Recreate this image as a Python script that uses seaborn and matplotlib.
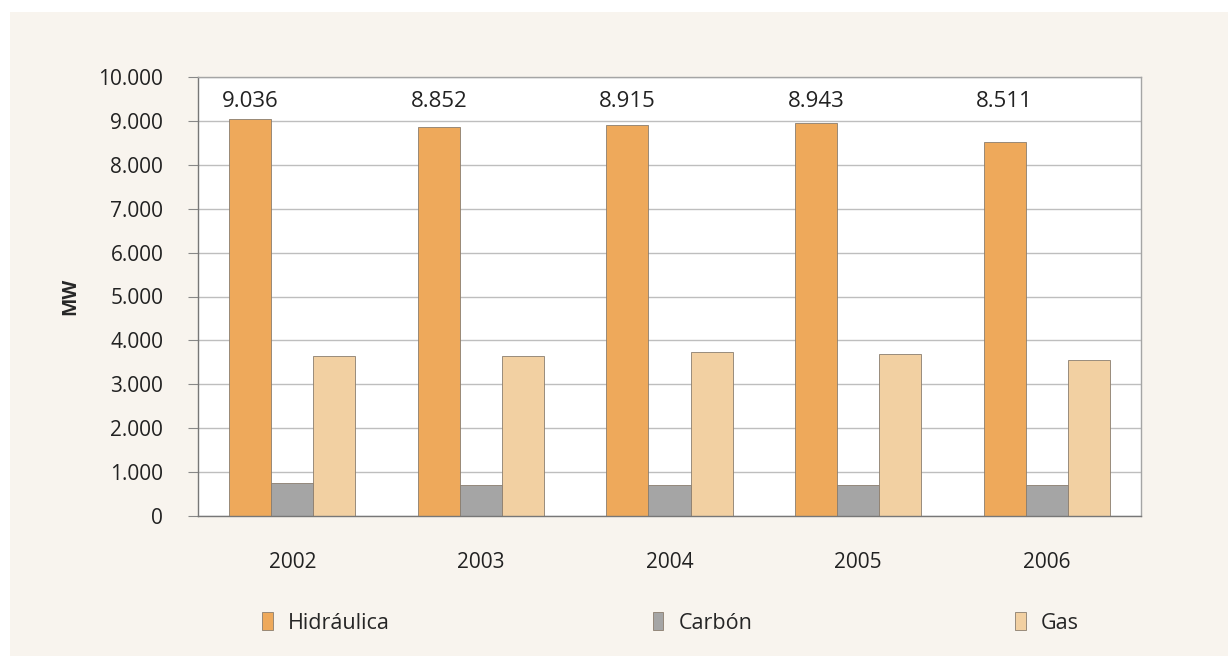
import pandas as pd
import matplotlib.pyplot as plt
import matplotlib.ticker as mticker
import seaborn as sns

# Installed capacity by source (MW)
years = ['2002', '2003', '2004', '2005', '2006']
sources = ['Hidráulica', 'Carbón', 'Gas']
hidraulica = [9036, 8852, 8915, 8943, 8511]
carbon = [750, 700, 700, 700, 700]
gas = [3650, 3650, 3735, 3690, 3550]

df = pd.DataFrame({
    'Año': years * 3,
    'Fuente': [sources[0]] * 5 + [sources[1]] * 5 + [sources[2]] * 5,
    'MW': hidraulica + carbon + gas,
})

palette = {'Hidráulica': '#EEA95B', 'Carbón': '#A5A5A5', 'Gas': '#F2D0A2'}
cream = '#F8F4EE'

sns.set_style('white')
plt.rcParams['font.family'] = ['Open Sans', 'DejaVu Sans']

fig = plt.figure(figsize=(12.28, 6.56), dpi=100)
fig.patch.set_facecolor('white')
# cream panel behind the chart
fig.patches.append(plt.Rectangle((10 / 1228, 0), 1, 1 - 12 / 656, transform=fig.transFigure,
                                 facecolor=cream, edgecolor='none', zorder=-10))

ax = fig.add_axes([198 / 1228, 1 - 516 / 656, (1141 - 198) / 1228, (516 - 77) / 656])
sns.barplot(data=df, x='Año', y='MW', hue='Fuente', palette=palette, width=0.67,
            edgecolor='#8a7d6e', linewidth=0.6, saturation=1, ax=ax, legend=False)

ax.set_facecolor('white')
ax.set_ylim(0, 10000)
ax.set_xlim(-0.5, 4.5)
ax.yaxis.set_major_locator(mticker.MultipleLocator(1000))
ax.yaxis.set_major_formatter(mticker.FuncFormatter(lambda v, p: f'{int(v):,}'.replace(',', '.')))
ax.yaxis.grid(True, color='#BEBEBE', linewidth=1)
ax.set_axisbelow(True)

# ticks at category boundaries on x
ax.set_xticks(range(5))
ax.set_xticklabels(years, fontsize=15, color='#222222')
ax.xaxis.set_minor_locator(mticker.FixedLocator([-0.5, 0.5, 1.5, 2.5, 3.5, 4.5]))
ax.tick_params(axis='x', which='major', length=0, pad=26)
ax.tick_params(axis='x', which='minor', length=8, color='#888888', direction='out')
ax.tick_params(axis='y', length=7, color='#888888', labelsize=15, labelcolor='#222222', pad=18,
               left=True)

for s in ax.spines.values():
    s.set_color('#a5a5a5')
    s.set_linewidth(1)
ax.spines['left'].set_color('#777777')
ax.spines['bottom'].set_color('#777777')

ax.set_xlabel('')
ax.set_ylabel('MW', fontsize=14, fontweight='bold', labelpad=13)

# value labels on Hidráulica bars, set near the top of the plot
for bar, v in zip(ax.containers[0], hidraulica):
    ax.text(bar.get_x() + bar.get_width() / 2, 9450, f'{v:,}'.replace(',', '.'),
            ha='center', va='center', fontsize=16, color='#222222')

handles = [plt.Rectangle((0, 0), 1, 1, facecolor=palette[s], edgecolor='#8a7d6e', linewidth=0.6)
           for s in sources]
fig.legend(handles, sources, loc='center', bbox_to_anchor=(0.546, 1 - 623 / 656), ncol=3,
           frameon=False, fontsize=15.5, handlelength=0.5, handleheight=0.9, handletextpad=0.7,
           columnspacing=12.2)

fig.savefig('out.png', dpi=100, facecolor=fig.get_facecolor())
